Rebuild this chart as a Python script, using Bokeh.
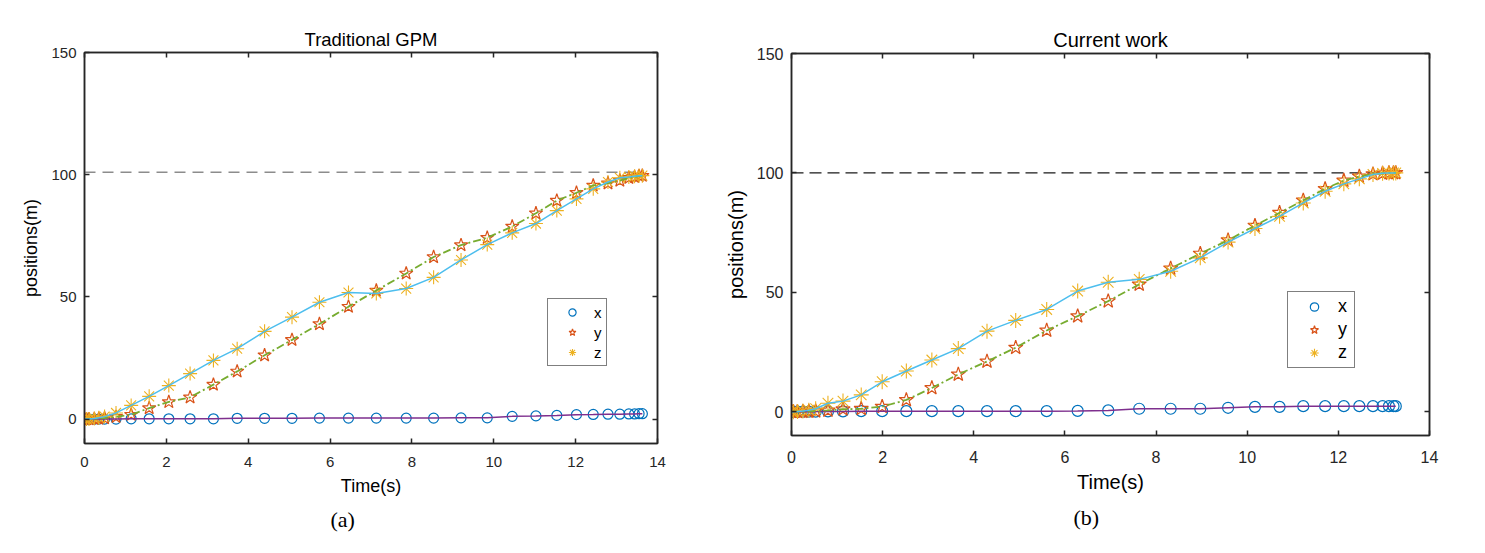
from bokeh.plotting import figure
from bokeh.layouts import row, column
from bokeh.models import (LinearAxis, FixedTicker, Legend, LegendItem, Title,
                          Range1d, CustomJSTickFormatter)
from bokeh.embed import file_html
from bokeh.resources import INLINE

# ---------------- data: (a) Traditional GPM ----------------
t_a = [0.00, 0.05, 0.11, 0.24, 0.35, 0.49, 0.77, 1.14, 1.58, 2.06, 2.58, 3.15, 3.73,
       4.40, 5.07, 5.74, 6.45, 7.13, 7.86, 8.53, 9.20, 9.84, 10.45, 11.03, 11.54,
       12.02, 12.43, 12.79, 13.08, 13.30, 13.44, 13.55, 13.63]
x_a = [0, 0, 0, 0, 0, 0, 0, 0.1, 0.1, 0.1, 0.1, 0.1, 0.3, 0.3, 0.3, 0.4, 0.4, 0.4,
       0.4, 0.4, 0.5, 0.5, 1.1, 1.3, 1.5, 1.8, 1.9, 2.0, 2.0, 2.1, 2.1, 2.2, 2.2]
y_a = [0, 0, 0, 0.1, 0.2, 0.4, 0.9, 1.8, 4.5, 7.0, 8.9, 14.1, 19.5, 26.1, 32.4, 38.9,
       46.0, 52.6, 59.6, 66.3, 71.2, 74.2, 78.8, 84.2, 89.4, 92.6, 95.6, 96.5, 97.6,
       98.7, 99.1, 99.5, 99.6]
z_a = [0, 0, 0.05, 0.2, 0.5, 1.0, 2.5, 5.6, 9.3, 13.7, 18.6, 24.0, 28.8, 35.9, 41.7,
       47.8, 51.8, 51.4, 53.4, 58.0, 65.1, 71.4, 76.2, 80.0, 85.3, 90.1, 94.2, 97.0,
       98.7, 99.1, 99.4, 99.6, 99.6]
target_a = 101

# ---------------- data: (b) Current work ----------------
t_b = [0.00, 0.04, 0.13, 0.25, 0.38, 0.53, 0.80, 1.13, 1.53, 1.99, 2.52, 3.08, 3.66,
       4.29, 4.92, 5.60, 6.28, 6.95, 7.63, 8.32, 8.97, 9.58, 10.17, 10.71, 11.23,
       11.71, 12.12, 12.46, 12.76, 12.97, 13.11, 13.21, 13.26]
x_b = [0, 0, 0, 0, 0, 0, 0.1, 0.1, 0.2, 0.2, 0.2, 0.2, 0.2, 0.2, 0.2, 0.2, 0.3, 0.5,
       1.2, 1.2, 1.2, 1.6, 2.0, 2.0, 2.3, 2.3, 2.3, 2.3, 2.3, 2.3, 2.3, 2.3, 2.3]
y_b = [0, 0, 0, 0, 0.1, 0.2, 0.5, 1.0, 1.2, 2.1, 4.9, 9.9, 15.6, 21.0, 26.8, 34.0,
       40.0, 46.3, 53.3, 60.0, 66.2, 71.8, 77.9, 83.3, 88.5, 93.3, 96.8, 98.5, 99.5,
       99.8, 100.0, 100.0, 100.0]
z_b = [0, 0, 0.1, 0.3, 0.6, 1.2, 3.5, 4.4, 7.0, 12.5, 17.0, 21.6, 26.4, 33.7, 38.2,
       42.8, 50.5, 54.2, 55.4, 58.8, 64.4, 71.0, 76.7, 81.8, 87.4, 92.3, 95.4, 97.5,
       99.3, 99.8, 100.0, 100.0, 100.0]
target_b = 100

x_ticks = [0, 2, 4, 6, 8, 10, 12, 14]
y_ticks = [0, 50, 100, 150]
series_labels = ["x", "y", "z"]

AX = "#262626"
FONT = "Liberation Sans"
C_X, C_Y, C_Z = "#0072BD", "#D95319", "#EDB120"
L_X, L_Y, L_Z = "#7E2F8E", "#77AC30", "#4DBEEE"


def panel(t, xs, ys, zs, target, title, tag, cfg):
    p = figure(width=cfg["w"], height=cfg["h"], output_backend="svg",
               toolbar_location=None, x_range=Range1d(0, 14), y_range=Range1d(-10, 150),
               min_border_left=cfg["bl"], min_border_right=cfg["br"],
               min_border_top=cfg["bt"], min_border_bottom=cfg["bb"])
    p.grid.visible = False
    p.outline_line_color = AX
    p.outline_line_width = 1.5
    p.background_fill_color = "white"
    p.border_fill_color = "white"

    p.title.text = title
    p.title.align = "center"
    p.title.text_font = FONT
    p.title.text_font_style = "normal"
    p.title.text_font_size = cfg["tfs"]
    p.title.text_color = "black"
    p.title.standoff = 5

    for ax, ticks in ((p.xaxis[0], x_ticks), (p.yaxis[0], y_ticks)):
        ax.ticker = FixedTicker(ticks=ticks)
        ax.axis_line_color = AX
        ax.axis_line_width = 1.5
        ax.major_tick_line_color = AX
        ax.major_tick_line_width = 1.5
        ax.major_tick_in = 5
        ax.major_tick_out = 0
        ax.minor_tick_line_color = None
        ax.major_label_text_font = FONT
        ax.major_label_text_font_size = cfg["kfs"]
        ax.major_label_text_color = AX
        ax.axis_label_text_font = FONT
        ax.axis_label_text_font_style = "normal"
        ax.axis_label_text_font_size = cfg["lfs"]
        ax.axis_label_text_color = "black"
    p.xaxis[0].axis_label = "Time(s)"
    p.yaxis[0].axis_label = "positions(m)"
    p.xaxis[0].major_label_standoff = cfg["xls"]
    p.xaxis[0].axis_label_standoff = cfg["xas"]
    p.yaxis[0].major_label_standoff = 8
    p.yaxis[0].axis_label_standoff = 7

    blank = CustomJSTickFormatter(code="return ''")
    for place, ticks in (("above", x_ticks), ("right", y_ticks)):
        ax = LinearAxis(ticker=FixedTicker(ticks=ticks), formatter=blank,
                        axis_line_color=AX, axis_line_width=1.5,
                        major_tick_line_color=AX, major_tick_line_width=1.5,
                        major_tick_in=5, major_tick_out=0, minor_tick_line_color=None,
                        major_label_text_font_size="1px", major_label_standoff=0)
        p.add_layout(ax, place)

    p.add_layout(Title(text=tag, align="left", offset=cfg["toff"],
                       text_font="Liberation Serif", text_font_style="normal",
                       text_font_size="22px", text_color="black",
                       standoff=cfg["tst"]), "below")

    # reference (target) level
    p.line([t[0], t[-1]], [target, target], line_color=cfg["dash_col"],
           line_dash=cfg["dash"], line_width=1.3)

    rx = p.scatter(t, xs, marker="circle", size=cfg["ms"], fill_color=None,
                   line_color=C_X, line_width=1.2)
    ry = p.scatter(t, ys, marker="star", size=cfg["ms"] + 4, fill_color=None,
                   line_color=C_Y, line_width=1.2)
    rz = p.scatter(t, zs, marker="asterisk", size=cfg["ms"] + 4,
                   line_color=C_Z, line_width=1.1)
    p.line(t, xs, line_color=L_X, line_width=1.5)
    p.line(t, ys, line_color=L_Y, line_width=1.8, line_dash="8 3 2 3")
    p.line(t, zs, line_color=L_Z, line_width=1.5)

    legend = Legend(items=[LegendItem(label=series_labels[0], renderers=[rx]),
                           LegendItem(label=series_labels[1], renderers=[ry]),
                           LegendItem(label=series_labels[2], renderers=[rz])],
                    location=cfg["legloc"], border_line_color="black",
                    border_line_width=1, background_fill_color="white",
                    background_fill_alpha=1.0, padding=4, spacing=cfg["lsp"],
                    glyph_width=cfg["gw"], glyph_height=cfg["gh"],
                    label_height=cfg["gh"], label_width=cfg["lw"], label_standoff=2,
                    label_text_font=FONT, label_text_font_size=cfg["legfs"],
                    label_text_color="black", margin=0)
    p.add_layout(legend)
    return p


cfg_a = dict(w=700, h=540, bl=84, br=43, bt=52, bb=97, tfs="18.5px", kfs="15px",
             lfs="18px", xls=13, xas=6, toff=246, tst=13, dash_col="#8c8c8c",
             dash="11 7", ms=10, legloc=(463, 77), lsp=2, gw=40, gh=18, lw=8,
             legfs="15px")
cfg_b = dict(w=770, h=540, bl=91, br=41, bt=53, bb=105, tfs="20px", kfs="16px",
             lfs="20px", xls=15, xas=5, toff=282, tst=14, dash_col="#1a1a1a",
             dash="12 6", ms=11, legloc=(496, 67), lsp=2, gw=44, gh=21, lw=12,
             legfs="18px")

p1 = panel(t_a, x_a, y_a, z_a, target_a, "Traditional GPM", "(a)", cfg_a)
p2 = panel(t_b, x_b, y_b, z_b, target_b, "Current work", "(b)", cfg_b)

layout = row(column(p1), column(p2), spacing=0)
open("out.html", "w").write(file_html(layout, INLINE))
